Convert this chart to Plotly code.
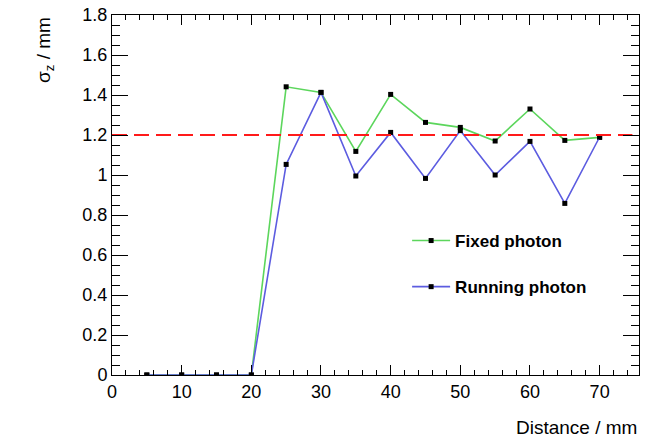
import plotly.graph_objects as go

distance = [5, 10, 15, 20, 25, 30, 35, 40, 45, 50, 55, 60, 65, 70]
fixed_photon = [0, 0, 0, 0, 1.441, 1.413, 1.118, 1.403, 1.263, 1.238, 1.170, 1.330, 1.173, 1.188]
running_photon = [0, 0, 0, 0, 1.053, 1.413, 0.995, 1.213, 0.983, 1.222, 1.000, 1.168, 0.858, 1.190]
reference_sigma = 1.2
reference_x = [0, 74.7]

FONT = "Liberation Sans, Arial, Helvetica, sans-serif"

fig = go.Figure()
fig.add_trace(go.Scatter(
    x=distance, y=fixed_photon, mode="lines+markers", name="Fixed photon",
    legendgroup="a",
    line=dict(color="#5cd65c", width=1.6),
    marker=dict(symbol="square", size=5, color="black"),
))
fig.add_trace(go.Scatter(
    x=distance, y=running_photon, mode="lines+markers", name="Running photon",
    legendgroup="b",
    line=dict(color="#5c5ce0", width=1.6),
    marker=dict(symbol="square", size=5, color="black"),
))
fig.add_trace(go.Scatter(
    x=reference_x, y=[reference_sigma, reference_sigma], mode="lines",
    showlegend=False, line=dict(color="#ff1a1a", width=2, dash="15px,7px"),
))

fig.update_layout(
    width=664, height=439,
    margin=dict(l=112, r=25, t=15, b=64, autoexpand=False),
    paper_bgcolor="white", plot_bgcolor="white",
    font=dict(family=FONT, size=18, color="black"),
    showlegend=True,
    legend=dict(
        x=0.56, y=(375 - 223) / 360, xanchor="left", yanchor="top",
        bgcolor="rgba(0,0,0,0)", borderwidth=0, itemwidth=38,
        font=dict(family=FONT, size=17, color="black", weight="bold"),
        tracegroupgap=21,
    ),
    xaxis=dict(
        range=[0, 75.65], showgrid=False, zeroline=False, automargin=False,
        showline=True, linecolor="black", linewidth=1, mirror="allticks",
        ticks="inside", ticklen=10, tickcolor="black", dtick=10, tick0=0,
        minor=dict(dtick=2, ticks="inside", ticklen=5, tickcolor="black"),
        tickfont=dict(size=18),
    ),
    yaxis=dict(
        range=[0, 1.8], showgrid=False, zeroline=False, automargin=False,
        showline=True, linecolor="black", linewidth=1, mirror="allticks",
        ticks="inside", ticklen=16, tickcolor="black", dtick=0.2, tick0=0,
        minor=dict(dtick=0.05, ticks="inside", ticklen=8, tickcolor="black"),
        tickfont=dict(size=18), tickformat="~g",
    ),
    annotations=[
        dict(text="σ<sub>z</sub> / mm", xref="paper", yref="paper",
             x=-(112 - 45) / 527, y=1.0, xanchor="center", yanchor="top",
             textangle=-90, showarrow=False, font=dict(size=19)),
        dict(text="Distance / mm", xref="paper", yref="paper",
             x=1.0, y=-(427 - 375) / 360, xanchor="right", yanchor="middle",
             showarrow=False, font=dict(size=19)),
    ],
)

fig.write_html("out.html", config={"displayModeBar": False},
               post_script="document.body.style.margin='0px';")
